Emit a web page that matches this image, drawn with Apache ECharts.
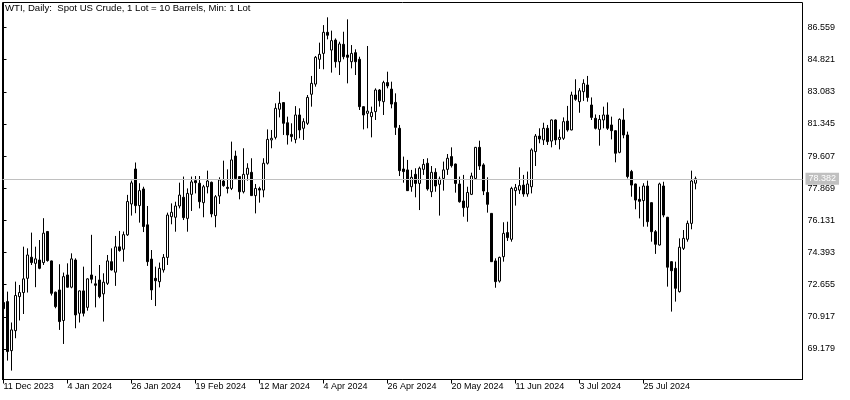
<!DOCTYPE html>
<html>
<head>
<meta charset="utf-8">
<script src="https://cdn.jsdelivr.net/npm/echarts@6/dist/echarts.min.js"></script>
<style>html,body{margin:0;padding:0;background:#fff}#c{width:850px;height:400px}</style>
</head>
<body>
<div id="c"></div>
<script>
const titleText = 'WTI, Daily:  Spot US Crude, 1 Lot = 10 Barrels, Min: 1 Lot';
const dateLabels = ['11 Dec 2023','4 Jan 2024','26 Jan 2024','19 Feb 2024','12 Mar 2024','4 Apr 2024','26 Apr 2024','20 May 2024','11 Jun 2024','3 Jul 2024','25 Jul 2024'];
const dateLabelBars = [0,16,32,48,64,80,96,112,128,144,160];
const priceTicks = [69.179,70.917,72.655,74.393,76.131,77.869,79.607,81.345,83.083,84.821,86.559];
const currentPrice = 78.382;

const opens = [
71.69,71.74,69.09,70.17,72.01,72.23,73.00,74.14,73.81,73.99,
73.85,75.53,73.94,72.25,72.37,70.72,73.18,72.52,73.99,71.11,
72.32,71.43,73.18,72.70,72.91,72.16,72.73,73.90,73.33,74.70,
74.57,75.35,77.02,78.91,76.93,77.83,75.89,74.04,73.00,72.82,
73.45,74.13,76.33,76.30,76.91,77.38,76.24,77.54,78.28,78.14,
77.09,77.95,78.19,76.39,77.45,78.26,77.92,77.86,79.61,78.50,
77.68,78.62,78.73,77.47,77.85,77.77,79.22,80.48,80.62,82.14,
82.50,81.41,80.78,80.51,81.83,81.11,81.38,82.95,83.50,84.84,
85.16,86.30,85.34,85.88,84.71,85.65,85.07,84.71,85.20,84.84,
82.28,81.92,81.74,82.01,83.18,82.55,83.58,83.23,82.51,81.11,
78.91,78.86,77.95,78.62,78.13,78.89,79.22,77.68,78.73,78.08,
78.40,78.89,79.58,79.18,78.10,77.18,76.84,77.54,78.40,80.08,
79.13,77.64,76.51,73.94,72.85,74.17,75.47,75.11,77.74,77.77,
78.04,77.56,77.95,79.85,80.69,80.48,81.11,80.42,81.56,80.51,
80.57,81.50,81.02,82.91,82.55,83.09,83.45,82.37,81.65,81.05,
81.56,81.83,81.29,80.98,79.81,81.56,80.75,78.77,78.10,77.27,
77.20,77.99,77.09,75.52,74.80,77.99,76.30,73.90,73.54,72.28,
74.62,75.11,75.97,78.14];

const closes = [
71.36,69.04,70.21,72.07,72.23,72.97,74.26,73.85,74.05,73.54,
75.44,73.96,72.19,71.47,70.66,73.09,72.52,74.05,71.02,72.32,
71.11,72.97,72.95,72.62,72.01,72.79,73.94,73.45,74.70,74.50,
75.36,77.15,78.16,76.93,77.74,75.80,73.90,72.37,72.87,73.54,
74.13,76.42,76.57,76.91,77.50,76.28,77.59,78.21,78.17,77.14,
77.95,78.26,76.48,77.41,78.32,78.01,77.86,79.40,78.40,77.68,
78.62,78.95,77.47,77.86,77.77,79.22,80.51,80.57,82.19,82.46,
81.38,80.75,80.66,81.83,81.02,81.47,82.78,83.54,84.95,85.11,
86.30,86.14,85.85,84.71,85.67,84.98,84.95,85.16,84.71,82.28,
81.83,82.04,81.97,83.18,82.60,83.58,83.40,82.42,81.16,78.82,
78.77,77.74,78.46,78.13,78.95,79.16,77.83,78.73,77.99,78.37,
78.86,79.49,79.09,78.13,77.14,76.82,77.64,78.53,80.08,79.07,
77.72,77.00,73.90,72.82,74.13,75.43,75.20,77.86,77.90,78.01,
77.56,78.10,79.94,80.69,80.53,81.11,80.39,81.56,80.48,80.62,
81.47,81.02,82.91,82.68,83.14,83.54,82.78,81.70,81.11,81.59,
81.83,81.11,80.98,79.76,81.59,80.75,78.50,78.04,77.23,77.16,
77.99,76.06,75.52,74.84,78.10,76.42,73.60,73.41,72.46,74.68,
75.16,75.97,78.26,78.38];

const lows = [
71.33,68.55,68.01,69.76,70.72,71.07,72.23,73.72,72.52,73.49,
73.72,73.90,72.07,71.38,70.21,69.45,72.50,72.46,70.30,70.61,
70.94,71.25,72.73,71.43,71.92,70.66,72.64,73.42,72.59,74.44,
73.90,75.29,76.39,76.52,76.01,75.50,73.67,71.83,71.50,72.51,
73.31,73.72,75.92,75.52,76.78,76.15,75.52,76.64,77.59,76.78,
76.30,77.59,76.30,75.76,77.02,77.95,77.59,77.77,78.35,77.27,
77.59,78.28,77.45,76.51,77.09,77.38,79.15,80.03,80.51,81.70,
80.75,80.23,80.39,80.30,80.57,80.48,81.29,82.28,83.36,84.32,
84.30,85.92,84.12,84.39,83.99,84.84,83.54,84.35,83.99,82.10,
81.05,81.11,80.62,81.56,82.28,81.83,83.27,82.19,80.75,78.53,
78.17,77.72,77.68,77.38,76.69,78.59,77.74,77.39,77.68,76.39,
77.74,78.59,78.99,77.63,77.09,76.33,76.06,77.50,78.33,78.86,
77.50,76.55,73.88,72.49,72.77,73.90,75.02,74.98,76.93,77.56,
77.41,77.41,77.59,79.07,80.30,80.21,80.21,80.08,80.21,79.97,
80.48,80.93,81.00,82.60,81.95,82.59,82.55,81.56,81.05,80.17,
81.11,81.02,80.51,79.27,79.76,80.57,78.40,77.41,76.73,76.24,
75.79,75.79,74.98,74.32,74.77,76.30,72.55,71.20,71.74,72.23,
74.53,74.98,75.65,77.81];

const highs = [
71.79,72.28,70.61,72.82,72.64,74.71,74.62,75.47,74.71,75.07,
76.25,75.56,73.96,72.28,73.76,73.31,73.81,74.35,74.08,72.34,
73.63,73.00,75.35,73.13,73.72,73.27,74.26,74.62,75.29,75.56,
75.53,77.51,78.28,79.26,78.14,77.95,76.91,74.53,73.63,73.85,
74.31,76.55,77.05,77.14,78.17,78.50,77.86,78.50,78.53,78.53,
78.05,78.82,78.23,77.50,78.46,79.36,78.89,80.39,79.90,78.52,
80.03,79.22,79.49,78.10,77.95,79.49,81.05,81.02,82.46,83.09,
82.52,81.74,81.38,82.31,82.19,81.65,82.91,83.94,85.02,85.74,
86.69,87.11,86.39,85.97,85.79,86.33,87.00,85.61,85.38,84.98,
82.30,85.56,82.28,83.27,83.23,83.68,84.17,83.63,83.00,81.29,
79.58,79.40,78.86,78.95,79.04,79.45,79.49,79.07,78.95,78.50,
79.31,79.72,80.08,79.20,78.50,78.59,77.95,78.71,80.10,80.44,
79.22,78.46,76.53,74.08,74.17,76.03,76.06,77.95,78.10,79.00,
78.59,78.77,80.03,80.80,81.11,81.41,81.29,81.59,81.59,81.05,
81.70,82.32,83.09,83.76,83.28,83.76,83.94,82.78,81.86,81.83,
82.28,82.51,81.74,81.00,81.65,82.19,80.93,78.86,78.12,77.95,
78.14,78.28,77.11,75.61,78.17,78.22,76.32,73.92,73.90,75.16,
75.61,76.12,78.82,78.50];

const FONT = 'Liberation Sans';
const candles = opens.map((o, i) => [i, o, closes[i], lows[i], highs[i]]);

const chart = echarts.init(document.getElementById('c'), null, {renderer: 'canvas'});
chart.setOption({
  animation: false,
  backgroundColor: '#fff',
  title: {
    text: titleText, left: 5, top: 3, padding: 0,
    textStyle: {fontSize: 9.6, fontWeight: 'normal', fontFamily: FONT, color: '#000'}
  },
  grid: {left: 2.5, top: 2.5, width: 800, height: 377, show: true, borderColor: '#000', borderWidth: 1, backgroundColor: 'transparent'},
  xAxis: {
    type: 'value', min: -0.25, max: 199.75, position: 'bottom',
    axisLine: {show: true, lineStyle: {color: '#000', width: 1}},
    axisTick: {show: true, length: 4, customValues: dateLabelBars, lineStyle: {color: '#000'}},
    axisLabel: {
      customValues: dateLabelBars, align: 'left', margin: 3,
      fontSize: 9, fontFamily: FONT, color: '#000',
      formatter: v => dateLabels[dateLabelBars.indexOf(Math.round(v))] || ''
    },
    splitLine: {show: false}
  },
  yAxis: {
    type: 'value', position: 'right', min: 67.529, max: 87.911, scale: true,
    axisLine: {show: true, lineStyle: {color: '#000', width: 1}},
    axisTick: {show: true, length: 3, customValues: priceTicks, lineStyle: {color: '#000'}},
    axisLabel: {
      customValues: priceTicks, margin: 5,
      fontSize: 9, fontFamily: FONT, color: '#000',
      formatter: v => v.toFixed(3)
    },
    splitLine: {show: false}
  },
  series: [{
    type: 'candlestick',
    dimensions: ['idx', 'open', 'close', 'low', 'high'],
    encode: {x: 'idx', y: ['open', 'close', 'low', 'high']},
    data: candles,
    barWidth: 2,
    itemStyle: {color: '#fff', color0: '#000', borderColor: '#000', borderColor0: '#000', borderWidth: 1},
    markLine: {
      silent: true, symbol: 'none', animation: false,
      lineStyle: {color: '#c0c0c0', type: 'solid', width: 1},
      label: {
        show: true, position: 'end', distance: 3,
        formatter: currentPrice.toFixed(3),
        backgroundColor: '#c0c0c0', color: '#fff', padding: [2, 3, 1, 3],
        fontSize: 9, fontFamily: FONT
      },
      data: [{yAxis: currentPrice}]
    }
  }]
});
</script>
</body>
</html>
